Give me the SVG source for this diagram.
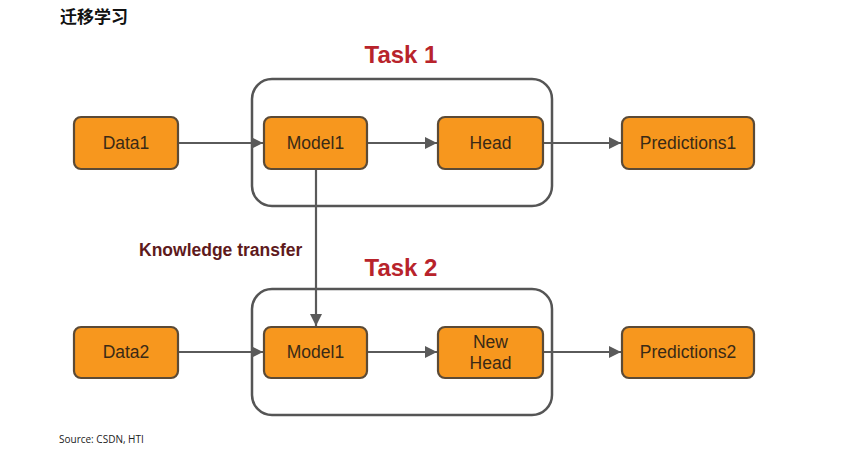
<svg xmlns="http://www.w3.org/2000/svg" width="849" height="454" viewBox="0 0 849 454">
<style>
.node rect{fill:#f7971e;stroke:#5b4a36;stroke-width:2.2}
.node text{font-family:"Liberation Sans",Arial,sans-serif;font-size:17.5px;fill:#3a2a16;text-anchor:middle}
.task{fill:none;stroke:#555;stroke-width:2.5}
.tlabel{font-family:"Liberation Sans",Arial,sans-serif;font-size:24px;font-weight:bold;fill:#b8232b;text-anchor:middle}
.conn{stroke:#5a5a5a;stroke-width:2.2;fill:none;marker-end:url(#ah)}
</style>
<defs>
<marker id="ah" viewBox="0 0 10 10" refX="10" refY="5" markerWidth="13" markerHeight="12" markerUnits="userSpaceOnUse" orient="auto">
<path d="M0,0 L10,5 L0,10 z" fill="#5a5a5a"/>
</marker>
</defs>
<rect width="849" height="454" fill="#fff"/>
<text x="60" y="23" font-family="'Noto Sans CJK SC',sans-serif" font-size="17" font-weight="bold" fill="#111">迁移学习</text>
<g id="task1"><rect class="task" x="252" y="79" width="300" height="127" rx="20"/><text class="tlabel" x="401" y="63">Task 1</text></g>
<g id="task2"><rect class="task" x="252" y="289" width="300" height="126" rx="20"/><text class="tlabel" x="401" y="276">Task 2</text></g>
<g id="connectors">
<line class="conn" x1="178" y1="143" x2="263" y2="143"/>
<line class="conn" x1="367" y1="143" x2="437" y2="143"/>
<line class="conn" x1="543" y1="143" x2="621" y2="143"/>
<line class="conn" x1="316" y1="169" x2="316" y2="326"/>
<line class="conn" x1="178" y1="352" x2="263" y2="352"/>
<line class="conn" x1="367" y1="352" x2="437" y2="352"/>
<line class="conn" x1="543" y1="352" x2="621" y2="352"/>
<text x="139" y="256" font-family="'Liberation Sans',Arial,sans-serif" font-size="17.5" font-weight="bold" fill="#5e1a1c">Knowledge transfer</text>
</g>
<g id="data1" class="node"><rect x="74" y="117" width="104" height="52" rx="7"/><text x="126" y="149">Data1</text></g>
<g id="model1a" class="node"><rect x="264" y="117" width="103" height="52" rx="7"/><text x="315.5" y="149">Model1</text></g>
<g id="head" class="node"><rect x="438" y="117" width="105" height="52" rx="7"/><text x="490.5" y="149">Head</text></g>
<g id="pred1" class="node"><rect x="622" y="117" width="132" height="52" rx="7"/><text x="688" y="149">Predictions1</text></g>
<g id="data2" class="node"><rect x="74" y="327" width="104" height="51" rx="7"/><text x="126" y="358">Data2</text></g>
<g id="model1b" class="node"><rect x="264" y="327" width="103" height="51" rx="7"/><text x="315.5" y="358">Model1</text></g>
<g id="newhead" class="node"><rect x="438" y="327" width="105" height="51" rx="7"/><text x="490.5" y="348">New</text><text x="490.5" y="369">Head</text></g>
<g id="pred2" class="node"><rect x="622" y="327" width="132" height="51" rx="7"/><text x="688" y="358">Predictions2</text></g>
<text x="59" y="443" font-family="'Open Sans','Liberation Sans',sans-serif" font-size="10" fill="#222">Source: CSDN, HTI</text>
</svg>
